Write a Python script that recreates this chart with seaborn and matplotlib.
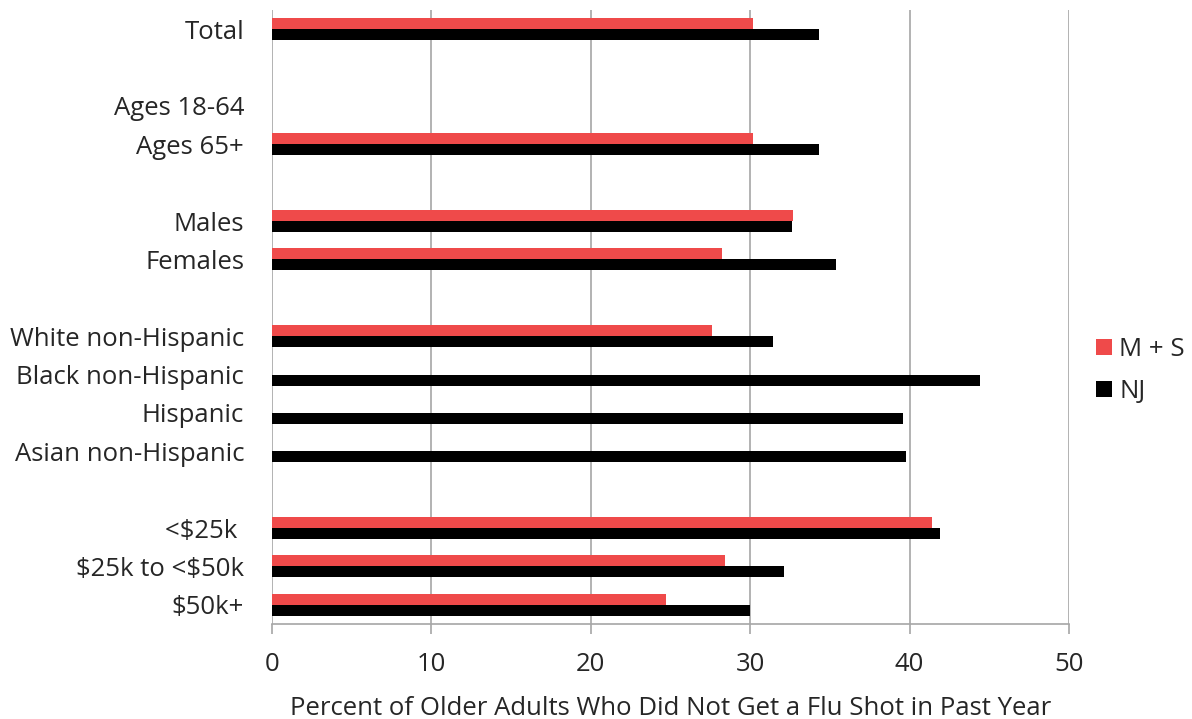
import numpy as np
import pandas as pd
import seaborn as sns
import matplotlib.pyplot as plt

# rows of the chart, blank names are spacer rows
groups = ["Total", " ", "Ages 18-64", "Ages 65+", "  ", "Males", "Females", "   ",
          "White non-Hispanic", "Black non-Hispanic", "Hispanic", "Asian non-Hispanic",
          "    ", "<$25k ", "$25k to <$50k", "$50k+"]
ms_vals = [30.2, np.nan, np.nan, 30.2, np.nan, 32.7, 28.2, np.nan,
           27.6, np.nan, np.nan, np.nan, np.nan, 41.4, 28.4, 24.7]
nj_vals = [34.3, np.nan, np.nan, 34.3, np.nan, 32.6, 35.4, np.nan,
           31.4, 44.4, 39.6, 39.8, np.nan, 41.9, 32.1, 30.0]
series = ["M + S", "NJ"]
colors = ["#EF4A4A", "#000000"]
x_ticks = [0, 10, 20, 30, 40, 50]

df = pd.DataFrame({
    "group": groups * 2,
    "pct": ms_vals + nj_vals,
    "series": [series[0]] * len(groups) + [series[1]] * len(groups),
})

sns.set_style("white")
plt.rcParams['font.family'] = ['Open Sans', 'DejaVu Sans']
plt.rcParams['text.parse_math'] = False

fig = plt.figure(figsize=(11.92, 7.19), dpi=100)
ax = fig.add_axes([272 / 1192, 1 - 624 / 719, (1069 - 272) / 1192, (624 - 10) / 719])

sns.barplot(data=df, y="group", x="pct", hue="series", order=groups, hue_order=series,
            palette=colors, width=0.575, orient="h", saturation=1, linewidth=0, ax=ax)

ax.set_xlim(0, 50)
ax.set_ylim(len(groups) - 0.5, -0.5)
ax.set_xticks(x_ticks)
ax.grid(axis="x", color="#A6A6A6", linewidth=1.2)
ax.set_axisbelow(True)
for s in ["top", "right", "left"]:
    ax.spines[s].set_visible(False)
ax.spines["bottom"].set_color("#A6A6A6")
ax.spines["bottom"].set_linewidth(1.2)

fs = 18.5
ax.tick_params(axis="x", length=7, width=1.2, color="#A6A6A6", pad=13, labelsize=fs, bottom=True)
ax.tick_params(axis="y", length=0, pad=20, labelsize=fs)
ax.set_ylabel("")
ax.set_xlabel("Percent of Older Adults Who Did Not Get a Flu Shot in Past Year", fontsize=fs, labelpad=14)

ax.legend(loc="center left", bbox_to_anchor=(1.034, 0.413), bbox_transform=ax.transAxes,
          frameon=False, fontsize=fs, borderaxespad=0, borderpad=0,
          handlelength=0.6, handleheight=0.6, handletextpad=0.3, labelspacing=0.65)

fig.savefig("out.png", dpi=100)
